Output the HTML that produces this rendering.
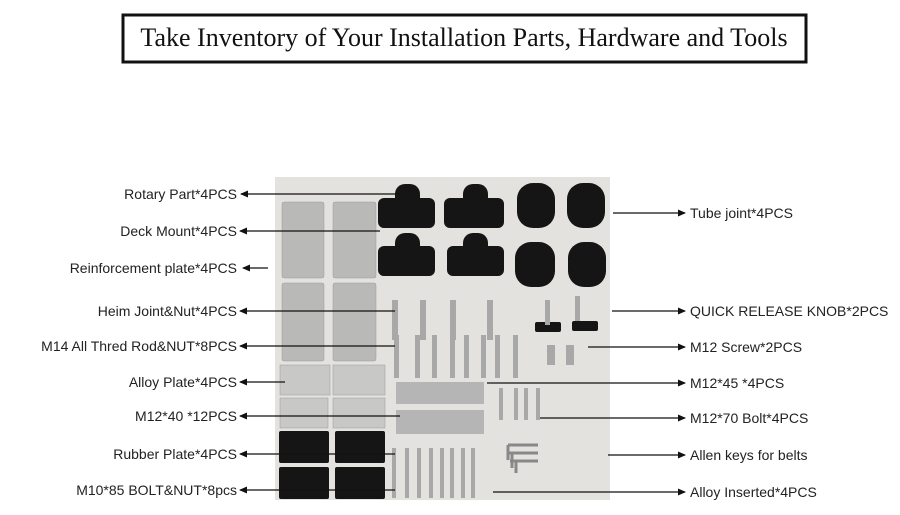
<!DOCTYPE html>
<html><head><meta charset="utf-8"><style>
html,body{margin:0;padding:0;background:#fff;width:900px;height:515px;overflow:hidden}
svg{display:block}
.l{font-family:"Liberation Sans",sans-serif;font-size:14px;fill:#222}
</style></head><body>
<svg width="900" height="515" viewBox="0 0 900 515">
<defs><marker id="a" markerWidth="8" markerHeight="8" refX="7" refY="4" orient="auto" markerUnits="userSpaceOnUse"><path d="M0,0.5 L8,4 L0,7.5z" fill="#111"/></marker></defs>
<rect x="123" y="15" width="683" height="47" fill="#fff" stroke="#111" stroke-width="3"/>
<text x="464" y="46" text-anchor="middle" font-family="Liberation Serif,serif" font-size="26" fill="#111">Take Inventory of Your Installation Parts, Hardware and Tools</text>
<!-- photo -->
<rect x="275" y="177" width="335" height="323" fill="#e4e2df"/>
<g fill="#b9b9b8" stroke="#999" stroke-width="0.5">
<rect x="282" y="202" width="42" height="76" rx="2"/><rect x="333" y="202" width="43" height="76" rx="2"/>
<rect x="282" y="283" width="42" height="78" rx="2"/><rect x="333" y="283" width="43" height="78" rx="2"/>
<rect x="280" y="365" width="50" height="30" fill="#c8c8c7"/><rect x="333" y="365" width="52" height="30" fill="#c8c8c7"/>
<rect x="280" y="398" width="48" height="30" fill="#c8c8c7"/><rect x="333" y="398" width="52" height="30" fill="#c8c8c7"/>
</g>
<g fill="#151515">
<rect x="279" y="431" width="50" height="32" rx="2"/><rect x="335" y="431" width="50" height="32" rx="2"/>
<rect x="279" y="467" width="50" height="32" rx="2"/><rect x="335" y="467" width="50" height="32" rx="2"/>
<rect x="378" y="198" width="57" height="30" rx="6"/><rect x="444" y="198" width="60" height="30" rx="6"/>
<rect x="395" y="184" width="25" height="25" rx="10"/><rect x="463" y="184" width="25" height="25" rx="10"/>
<rect x="378" y="246" width="57" height="30" rx="6"/><rect x="447" y="246" width="57" height="30" rx="6"/>
<rect x="395" y="233" width="25" height="25" rx="10"/><rect x="463" y="233" width="25" height="25" rx="10"/>
<rect x="517" y="183" width="38" height="45" rx="16"/><rect x="567" y="183" width="38" height="45" rx="16"/>
<rect x="515" y="242" width="40" height="45" rx="16"/><rect x="568" y="242" width="38" height="45" rx="16"/>
<rect x="535" y="322" width="26" height="10" rx="2"/><rect x="572" y="321" width="26" height="10" rx="2"/>
</g>
<g fill="#a8a8a8">
<rect x="392" y="300" width="6" height="40"/><rect x="420" y="300" width="6" height="40"/><rect x="450" y="300" width="6" height="40"/><rect x="487" y="300" width="6" height="40"/>
<rect x="394" y="335" width="5" height="43"/><rect x="415" y="335" width="5" height="43"/><rect x="432" y="335" width="5" height="43"/><rect x="450" y="335" width="5" height="43"/><rect x="464" y="335" width="5" height="43"/><rect x="481" y="335" width="5" height="43"/><rect x="495" y="335" width="5" height="43"/><rect x="513" y="335" width="5" height="43"/>
<rect x="396" y="382" width="88" height="22" fill="#b5b5b5"/><rect x="396" y="410" width="88" height="24" fill="#b5b5b5"/>
<rect x="499" y="388" width="4" height="32"/><rect x="514" y="388" width="4" height="32"/><rect x="524" y="388" width="4" height="32"/><rect x="536" y="388" width="4" height="32"/>
<rect x="392" y="448" width="4" height="50"/><rect x="405" y="448" width="4" height="50"/><rect x="417" y="448" width="4" height="50"/><rect x="429" y="448" width="4" height="50"/><rect x="440" y="448" width="4" height="50"/><rect x="450" y="448" width="4" height="50"/><rect x="461" y="448" width="4" height="50"/><rect x="471" y="448" width="4" height="50"/>
<rect x="545" y="300" width="5" height="25"/><rect x="575" y="296" width="5" height="25"/><rect x="547" y="345" width="8" height="20"/><rect x="566" y="345" width="8" height="20"/>
</g>
<g fill="none" stroke="#888" stroke-width="3"><path d="M508,445 h30 M508,453 h30 M510,461 h28"/><path d="M508,445 v15 M512,453 v15 M516,461 v12"/></g>
<!-- left connectors -->
<g stroke="#111" stroke-width="1.2" marker-end="url(#a)">
<line x1="400" y1="194" x2="241" y2="194"/>
<line x1="380" y1="231" x2="240" y2="231"/>
<line x1="268" y1="268" x2="243" y2="268"/>
<line x1="395" y1="311" x2="240" y2="311"/>
<line x1="395" y1="346" x2="240" y2="346"/>
<line x1="285" y1="382" x2="240" y2="382"/>
<line x1="400" y1="416" x2="240" y2="416"/>
<line x1="395" y1="454" x2="240" y2="454"/>
<line x1="395" y1="490" x2="240" y2="490"/>
<line x1="613" y1="213" x2="685" y2="213"/>
<line x1="612" y1="311" x2="685" y2="311"/>
<line x1="588" y1="347" x2="685" y2="347"/>
<line x1="487" y1="383" x2="685" y2="383"/>
<line x1="540" y1="418" x2="685" y2="418"/>
<line x1="608" y1="455" x2="685" y2="455"/>
<line x1="493" y1="492" x2="685" y2="492"/>
</g>
<g class="l" text-anchor="end">
<text x="237" y="199">Rotary Part*4PCS</text>
<text x="237" y="236">Deck Mount*4PCS</text>
<text x="237" y="273">Reinforcement plate*4PCS</text>
<text x="237" y="316">Heim Joint&amp;Nut*4PCS</text>
<text x="237" y="351">M14 All Thred Rod&amp;NUT*8PCS</text>
<text x="237" y="387">Alloy Plate*4PCS</text>
<text x="237" y="421">M12*40 *12PCS</text>
<text x="237" y="459">Rubber Plate*4PCS</text>
<text x="237" y="495">M10*85 BOLT&amp;NUT*8pcs</text>
</g>
<g class="l">
<text x="690" y="218">Tube joint*4PCS</text>
<text x="690" y="316">QUICK RELEASE KNOB*2PCS</text>
<text x="690" y="352">M12 Screw*2PCS</text>
<text x="690" y="388">M12*45 *4PCS</text>
<text x="690" y="423">M12*70 Bolt*4PCS</text>
<text x="690" y="460">Allen keys for belts</text>
<text x="690" y="497">Alloy Inserted*4PCS</text>
</g>
</svg>
</body></html>
